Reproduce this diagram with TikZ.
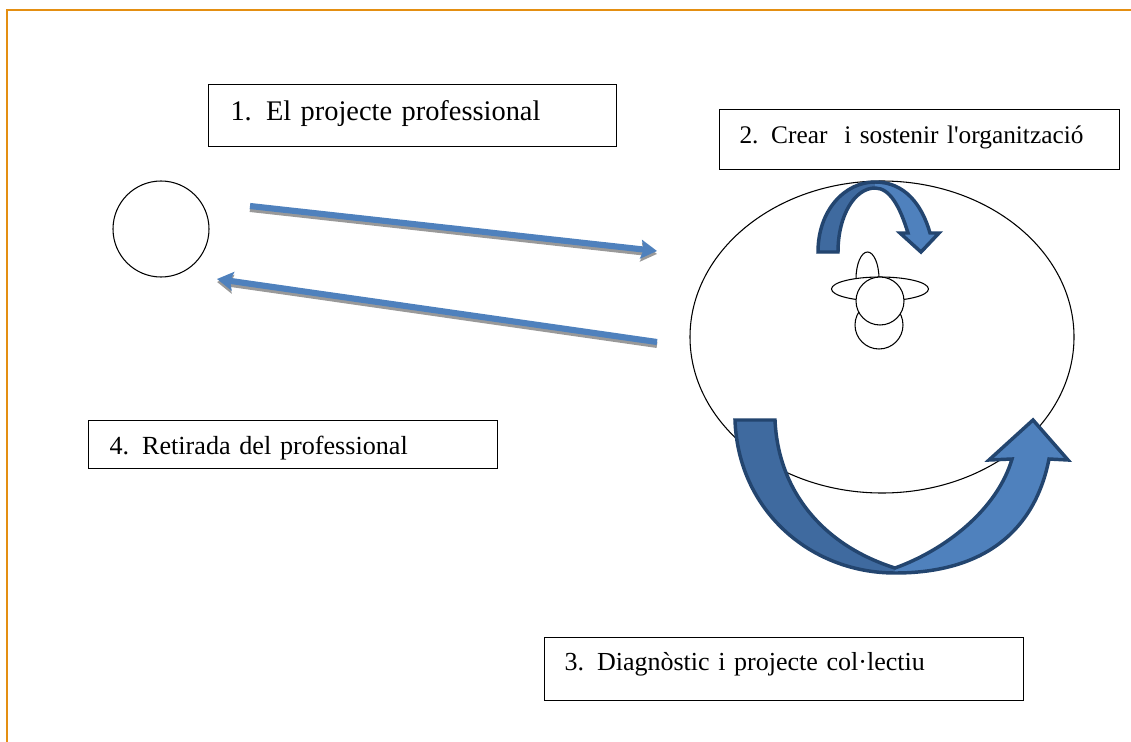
\documentclass[tikz,border=0pt]{standalone}
\usepackage{fontspec}
\setmainfont{Liberation Serif}
\usetikzlibrary{arrows.meta,shapes.geometric}
\definecolor{framecol}{HTML}{E48F12}
\definecolor{bluelight}{HTML}{4F81BD}
\definecolor{bluedark}{HTML}{3F6A9F}
\definecolor{blueline}{HTML}{23456F}
\begin{document}
\begin{tikzpicture}[x=0.75pt, y=-0.75pt,
    box/.style={rectangle, draw, anchor=north west, align=left, inner xsep=0pt, inner ysep=0pt, line width=0.75pt},
    outline/.style={draw, fill=white, line width=0.8pt},
    bluearrow/.style={draw=bluelight, line width=4.6pt, -{Stealth[length=12pt,width=14pt,inset=2pt]}},
    greyarrow/.style={bluearrow, draw=gray!80, transform canvas={yshift=-2.2pt}},
    curvedark/.style={fill=bluedark, draw=none},
    curvelight/.style={fill=bluelight, draw=none},
    curveline/.style={draw=blueline, line width=2.6pt, line join=miter, fill=none}]
    \useasboundingbox (0,0) rectangle (1131,742);
    \draw[framecol, line width=2.1pt] (7,742) -- (7,10) -- (1131,10);

    \node(b1) [box, font=\fontsize{21.3}{24}\selectfont, minimum width=408*0.75pt, minimum height=62*0.75pt, text width=364*0.75pt] at (208,84) {\raisebox{7pt}{1. El projecte professional}};
    \node(b2) [box, font=\fontsize{19}{22}\selectfont, minimum width=400*0.75pt, minimum height=60*0.75pt, text width=360*0.75pt] at (719,109) {\raisebox{7pt}{2. Crear\ \ i sostenir l\textquotesingle organització}};
    \node(b3) [box, font=\fontsize{19.5}{22}\selectfont, minimum width=479*0.75pt, minimum height=63*0.75pt, text width=439*0.75pt] at (544,637) {\raisebox{11.5pt}{3. Diagnòstic i projecte col·lectiu}};
    \node(b4) [box, font=\fontsize{19.6}{22}\selectfont, minimum width=409*0.75pt, minimum height=48*0.75pt, text width=367*0.75pt] at (88,420) {\rule{0pt}{19pt}4. Retirada del professional};

    \node(c1) [circle, outline, minimum size=96*0.75pt] at (161,229) {};
    \node(e1) [ellipse, outline, inner sep=0pt, minimum width=384*0.75pt, minimum height=312*0.75pt] at (882,337) {};

    \node(c3) [circle, outline, inner sep=0pt, minimum size=48*0.75pt] at (879,325) {};
    \node(e2) [ellipse, outline, inner sep=0pt, minimum width=23*0.75pt, minimum height=54*0.75pt] at (867.5,279) {};
    \node(e3) [ellipse, outline, inner sep=0pt, minimum width=97*0.75pt, minimum height=24*0.75pt] at (880,289) {};
    \node(c2) [circle, outline, inner sep=0pt, minimum size=48*0.75pt] at (880,301) {};

    \coordinate (a1) at (250,206);
    \coordinate (a2) at (657,251);
    \coordinate (a3) at (657,342);
    \coordinate (a4) at (217,279);
    \draw[greyarrow] (a1) -- (a2);
    \draw[greyarrow] (a3) -- (a4);
    \draw[bluearrow] (a1) -- (a2);
    \draw[bluearrow] (a3) -- (a4);

    \fill[curvedark] (817,253) .. controls (817,210) and (845,181) .. (875,181) -- (875,188) .. controls (855,188) and (839,215) .. (839,253) -- cycle;
    \fill[curvelight] (875,181) .. controls (905,181) and (922,205) .. (930,232) -- (942,232) -- (921,254) -- (897,232) -- (908,232) .. controls (900,207) and (890,188) .. (875,188) -- cycle;
    \draw[curveline] (818,252) .. controls (818,210) and (845,182) .. (875,182) .. controls (905,182) and (922,205) .. (930,233) -- (939,233) -- (921,252) -- (900,233) -- (908,233) .. controls (900,207) and (890,188) .. (875,188) .. controls (855,188) and (838,215) .. (838,252) -- cycle;

    \fill[curvedark] (735,420) .. controls (738,510) and (810,573) .. (895,573) -- (895,568) .. controls (822,545) and (778,490) .. (775,420) -- cycle;
    \fill[curvelight] (895,573) .. controls (985,573) and (1035,530) .. (1049,459) -- (1068,460) -- (1033,420) -- (989,460) -- (1012,459) .. controls (997,510) and (945,550) .. (895,568) -- cycle;
    \draw[curveline] (735,420) .. controls (738,510) and (810,573) .. (895,573) .. controls (985,573) and (1035,530) .. (1049,459) -- (1068,460) -- (1033,420) -- (989,460) -- (1012,459) .. controls (997,510) and (945,550) .. (895,568) .. controls (822,545) and (778,490) .. (775,420) -- cycle;
\end{tikzpicture}
\end{document}
